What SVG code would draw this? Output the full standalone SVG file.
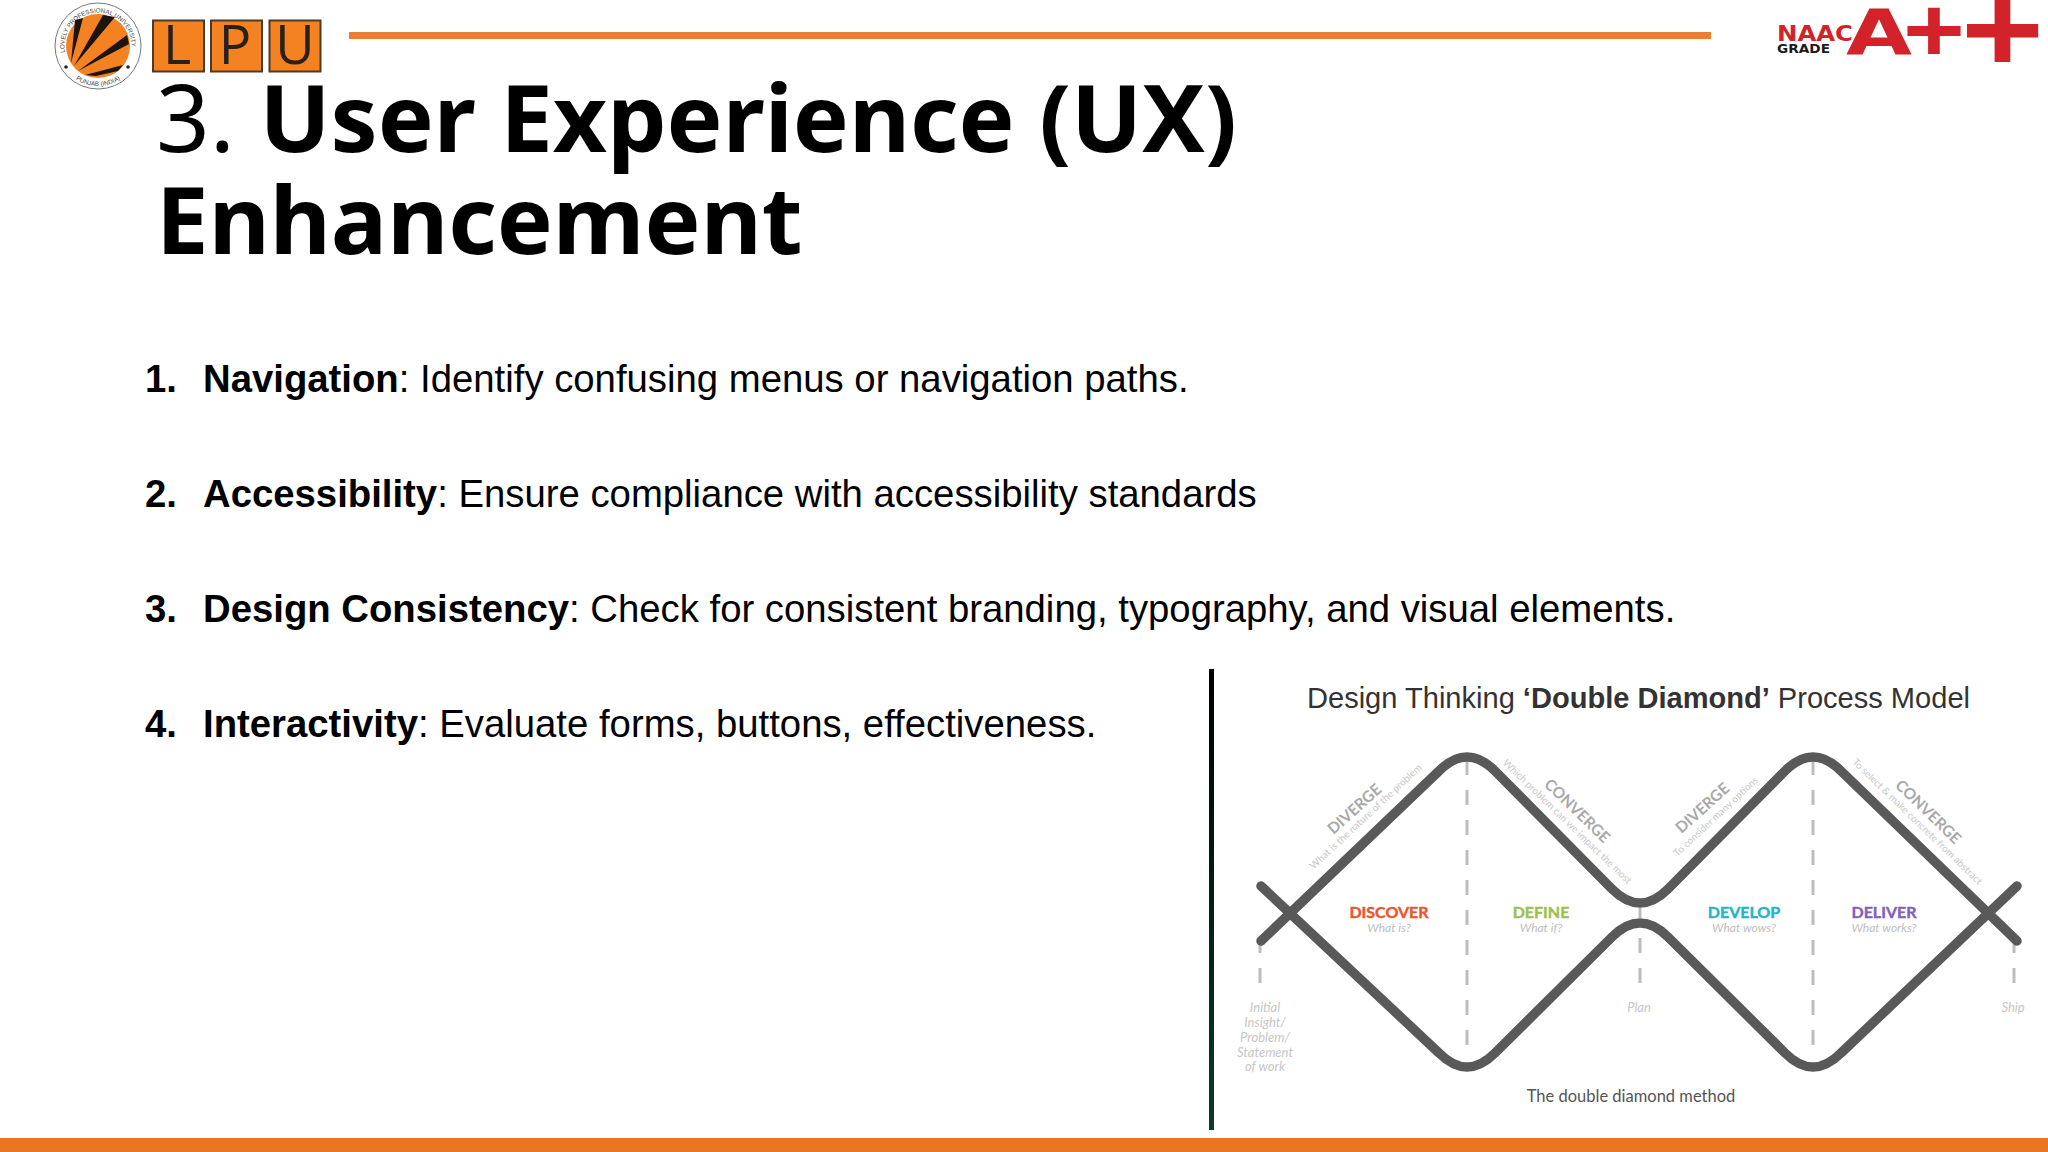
<svg xmlns="http://www.w3.org/2000/svg" width="2048" height="1152" viewBox="0 0 2048 1152">
<style>
.sans{font-family:"Liberation Sans",Arial,sans-serif}
.noto{font-family:"Noto Sans","Open Sans",sans-serif}
.lato{font-family:Lato,"Open Sans",sans-serif}
.title{font-size:94px;fill:#000}
.item{font-size:38.300px;fill:#000}
.box{fill:#F58220;stroke:#4a3a28;stroke-width:2}
.boxt{font-family:"Open Sans","Noto Sans",sans-serif;font-size:54px;fill:#2a2018;text-anchor:middle}
.road{fill:none;stroke:#595959;stroke-width:9.500;stroke-linecap:round;stroke-linejoin:round}
.dash{fill:none;stroke:#bdbdbd;stroke-width:3;stroke-dasharray:15 15}
.big{font-family:Lato,sans-serif;font-weight:700;font-size:15.500px;fill:#a9a9a9;text-anchor:middle}
.sub{font-family:Lato,sans-serif;font-size:10px;fill:#c8c8c8;text-anchor:middle}
.stage{font-family:Lato,sans-serif;font-weight:700;font-size:16px;text-anchor:middle;stroke-width:.4}
.q{font-family:Lato,sans-serif;font-style:italic;font-size:12px;fill:#bdbdbd;text-anchor:middle}
.ms{font-family:Lato,sans-serif;font-style:italic;font-size:13px;fill:#c6c6c6;text-anchor:middle}
.ring{font-family:"Liberation Sans",sans-serif;font-size:6.200px;fill:#444}
.red{fill:#D2232A}
</style>
<defs>
<linearGradient id="vg" x1="0" y1="0" x2="0" y2="1"><stop offset="0" stop-color="#000"/><stop offset="1" stop-color="#0b3a2d"/></linearGradient>
<path id="arcTop" d="M65.100 52.400 A33.500 33.500 0 1 1 130.900 52.400"/>
<path id="arcBot" d="M72.300 76.600 A40 40 0 0 0 123.700 76.600"/>
</defs>
<rect width="2048" height="1152" fill="#fff"/>

<g id="logo">
<circle cx="98" cy="46" r="43" fill="#fff" stroke="#777" stroke-width="1"/>
<circle cx="98" cy="46" r="32" fill="#F58220"/>
<polygon points="71,63 75,20 83,18" fill="#1c1410"/>
<polygon points="74,66 103,15 115,17" fill="#1c1410"/>
<polygon points="78,71 127,35 129,44" fill="#1c1410"/>
<polygon points="85,75 123,65 118,71 96,76" fill="#1c1410"/>
<circle cx="66" cy="67" r="1.800" fill="#222"/>
<circle cx="128" cy="67" r="1.800" fill="#222"/>
<text class="ring"><textPath href="#arcTop">LOVELY PROFESSIONAL UNIVERSITY</textPath></text>
<text class="ring" text-anchor="middle"><textPath href="#arcBot" startOffset="50%">PUNJAB (INDIA)</textPath></text>
</g>
<g id="lpu">
<rect class="box" x="153" y="20.500" width="51" height="51"/><text class="boxt" x="177" y="64">L</text>
<rect class="box" x="211" y="20.500" width="51" height="51"/><text class="boxt" x="235" y="64">P</text>
<rect class="box" x="269.500" y="20.500" width="51" height="51"/><text class="boxt" x="295" y="64">U</text>
</g>
<rect id="top-rule" x="349" y="32" width="1362" height="7" fill="#ED7D31"/>
<g id="naac">
<text class="red" x="1777" y="41" font-family="DejaVu Sans" font-weight="700" font-size="21" textLength="76" lengthAdjust="spacingAndGlyphs">NAAC</text>
<text x="1777" y="53" font-family="DejaVu Sans" font-weight="700" font-size="13" fill="#1a1a1a" textLength="53" lengthAdjust="spacingAndGlyphs">GRADE</text>
<text class="red" x="1846" y="54" font-family="DejaVu Sans" font-weight="700" font-size="63" textLength="66" lengthAdjust="spacingAndGlyphs">A</text>
<text class="red" transform="translate(1903 61) scale(1 .85)" font-family="Liberation Sans" font-weight="700" font-size="106">+</text>
<text class="red" transform="translate(1961 71.800) scale(1 .86)" font-family="Liberation Sans" font-weight="700" font-size="142">+</text>
</g>

<g id="title" class="noto title">
<text x="156" y="152">3. <tspan font-weight="700">User Experience (UX)</tspan></text>
<text x="156" y="254" font-weight="700">Enhancement</text>
</g>

<g id="list" class="sans item">
<text x="145" y="392" font-weight="700">1.</text><text x="203" y="392"><tspan font-weight="700">Navigation</tspan>: Identify confusing menus or navigation paths.</text>
<text x="145" y="507" font-weight="700">2.</text><text x="203" y="507"><tspan font-weight="700">Accessibility</tspan>: Ensure compliance with accessibility standards</text>
<text x="145" y="622" font-weight="700">3.</text><text x="203" y="622"><tspan font-weight="700">Design Consistency</tspan>: Check for consistent branding, typography, and visual elements.</text>
<text x="145" y="737" font-weight="700">4.</text><text x="203" y="737"><tspan font-weight="700">Interactivity</tspan>: Evaluate forms, buttons, effectiveness.</text>
</g>

<rect id="divider" x="1209" y="669" width="5" height="461" fill="url(#vg)"/>

<g id="double-diamond">
<text class="sans" x="1307" y="708" font-size="30" fill="#333" textLength="663" lengthAdjust="spacingAndGlyphs">Design Thinking <tspan font-weight="700">‘Double Diamond’</tspan> Process Model</text>
<g id="dashes">
<path class="dash" d="M1467 760V1060"/>
<path class="dash" d="M1813 760V1060"/>
<path class="dash" d="M1640 908V918M1640 938V983"/>
<path class="dash" d="M1260 938V983"/>
<path class="dash" d="M2014 938V983"/>
</g>
<g id="connectors">
<path class="road" d="M1261 941 L1439 771 Q1467 743 1495 771 L1612 889 Q1640 917 1668 889 L1785 771 Q1813 743 1841 771 L2017 941"/>
<path class="road" d="M1261 886 L1439 1053 Q1467 1081 1495 1053 L1612 937 Q1640 909 1668 937 L1785 1053 Q1813 1081 1841 1053 L2017 886"/>
</g>
<text class="big" transform="translate(1358 813) rotate(-42)">DIVERGE</text>
<text class="sub" transform="translate(1368 819) rotate(-43)">What is the nature of the problem</text>
<text class="big" transform="translate(1573.500 814.600) rotate(44)">CONVERGE</text>
<text class="sub" transform="translate(1565 824) rotate(44)">Which problem can we impact the most</text>
<text class="big" transform="translate(1706 812) rotate(-42)">DIVERGE</text>
<text class="sub" transform="translate(1718 819) rotate(-43)">To consider many options</text>
<text class="big" transform="translate(1924.500 815.600) rotate(44)">CONVERGE</text>
<text class="sub" transform="translate(1915 824) rotate(44)">To select &amp; make concrete from abstract</text>

<text class="stage" x="1389" y="918" fill="#E8562A" stroke="#E8562A">DISCOVER</text><text class="q" x="1389" y="932">What is?</text>
<text class="stage" x="1541" y="918" fill="#9BC153" stroke="#9BC153">DEFINE</text><text class="q" x="1541" y="932">What if?</text>
<text class="stage" x="1744" y="918" fill="#22B5C9" stroke="#22B5C9">DEVELOP</text><text class="q" x="1744" y="932">What wows?</text>
<text class="stage" x="1884" y="918" fill="#7F63B5" stroke="#7F63B5">DELIVER</text><text class="q" x="1884" y="932">What works?</text>

<g class="ms">
<text x="1265" y="1012">Initial</text><text x="1265" y="1027">Insight/</text><text x="1265" y="1042">Problem/</text><text x="1265" y="1057">Statement</text><text x="1265" y="1071">of work</text>
<text x="1639" y="1012">Plan</text>
<text x="2013" y="1012">Ship</text>
</g>
<text class="lato" x="1631" y="1102" font-size="16.500" fill="#555" text-anchor="middle">The double diamond method</text>
</g>

<rect id="bottom-bar" x="0" y="1138" width="2048" height="14" fill="#EA7624"/>
</svg>
